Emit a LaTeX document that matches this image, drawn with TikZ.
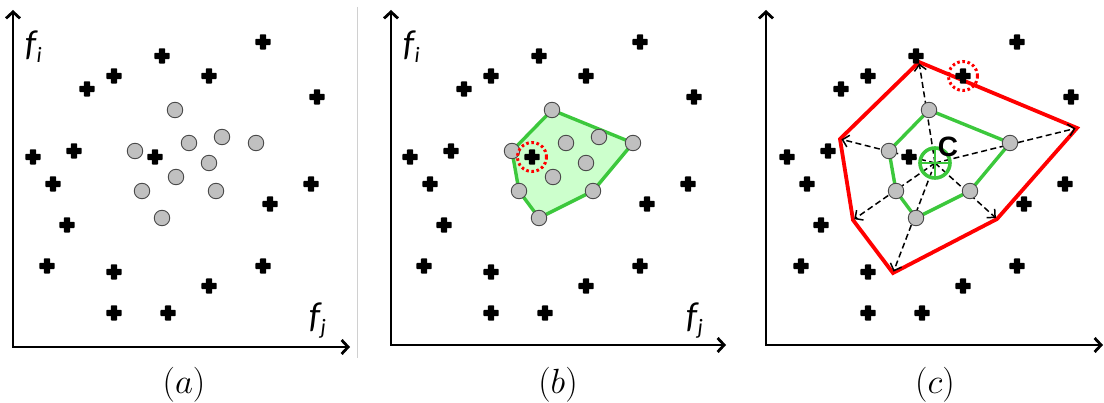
\RequirePackage{fix-cm}
\documentclass[tikz,border=0pt]{standalone}
\usepackage{fontspec}
\usepackage{tikz}
\usepackage{xcolor}
\usetikzlibrary{arrows.meta,positioning,calc,backgrounds}
\newfontfamily\carlito{Carlito}
\newfontfamily\libsans{Liberation Sans}
\definecolor{ink}{HTML}{000000}
\definecolor{dotgray}{HTML}{C0C0C0}
\definecolor{dotedge}{HTML}{4A4A4A}
\definecolor{hullgreen}{HTML}{3CC83C}
\definecolor{hullfill}{HTML}{CCFFCC}
\definecolor{boundred}{HTML}{FF0000}
\definecolor{sepgray}{HTML}{D0D0D0}
\newcommand{\featlab}[2]{{\carlito\itshape\fontsize{36}{36}\selectfont #1\kern0.5pt\raisebox{-7pt}{\fontsize{22}{22}\selectfont #2}}}
\tikzset{
  plusmark/.style={inner sep=0pt,minimum size=17pt,
    path picture={
      \fill[ink,rounded corners=0.8pt] ([shift={(-7.6pt,-3.2pt)}]path picture bounding box.center)
        rectangle ([shift={(7.6pt,3.2pt)}]path picture bounding box.center);
      \fill[ink,rounded corners=0.8pt] ([shift={(-3.2pt,-7.6pt)}]path picture bounding box.center)
        rectangle ([shift={(3.2pt,7.6pt)}]path picture bounding box.center);}},
  sample/.style={circle,draw=dotedge,fill=dotgray,line width=0.9pt,
                 minimum size=15.5pt,inner sep=0pt},
  ringdot/.style={circle,draw=boundred,line width=3pt,dash pattern=on 2.6pt off 2.6pt,
                  minimum size=29pt,inner sep=0pt},
  centring/.style={circle,draw=hullgreen,line width=3.6pt,minimum size=30pt,inner sep=0pt,
    path picture={\draw[hullgreen,line width=2.8pt]
      (path picture bounding box.north) -- (path picture bounding box.south)
      (path picture bounding box.west) -- (path picture bounding box.east);}},
  axisarr/.style={{Straight Barb[length=6.5pt,width=14pt]}-{Straight Barb[length=6.5pt,width=14pt]},
                  line width=2.8pt,draw=ink},
  hullline/.style={draw=hullgreen,line width=3.4pt,line join=round},
  boundline/.style={draw=boundred,line width=3.8pt,line join=miter},
  rayarr/.style={-{Straight Barb[length=6pt,width=12pt]},line width=1.5pt,
                 dash pattern=on 6pt off 3.5pt,shorten >=1.5pt},
  sepline/.style={draw=sepgray,line width=1pt},
  caption/.style={font=\fontsize{35}{35}\selectfont,inner sep=0pt},
  bigc/.style={font=\libsans\bfseries\fontsize{28}{28}\selectfont,inner sep=0pt}
}

\begin{document}
\begin{tikzpicture}[x=1pt,y=-1pt]
  \useasboundingbox (0,0) rectangle (1104,403);
  \draw[sepline] (357,7) -- (357,358);

  % axes
  \foreach \p/\ox/\oy/\ex in {a/13/347/350,b/391/345/726,c/766/345/1103} {
    \coordinate (\p top) at (\ox,10);
    \coordinate (\p end) at (\ex,\oy);
    \draw[axisarr] (\p top) |- (\p end);
  }
  \node[anchor=base west,inner sep=0pt] (afi) at (25,56) {\featlab{f}{i}};
  \node[anchor=base west,inner sep=0pt] (afj) at (309,328) {\featlab{f}{j}};
  \node[anchor=base west,inner sep=0pt] (bfi) at (403,56) {\featlab{f}{i}};
  \node[anchor=base west,inner sep=0pt] (bfj) at (686,328) {\featlab{f}{j}};

  % the other class, same in all panels
  \foreach \p/\dx in {a/0,b/377,c/754}
    \foreach \x/\y [count=\k] in {263/42,162/56,114/76,209/76,87/89,317/97,74/151,33/157,
        155/157,53/184,311/184,270/204,67/225,47/266,263/266,114/272,209/286,114/313,168/313}
      \node[plusmark] (\p x\k) at (\x+\dx,\y) {};

  % samples of the class
  \foreach \p/\dx in {a/0,b/377}
    \foreach \x/\y [count=\k] in {175/110,222/137,189/143,256/143,135/151,
        209/163,176/177,142/191,216/191,162/218}
      \node[sample] (\p s\k) at (\x+\dx,\y) {};

  % (b) hull
  \begin{pgfonlayer}{background}
    \draw[hullline,fill=hullfill] (bs1.center) -- (bs4.center) -- (bs9.center)
      -- (bs10.center) -- (bs8.center) -- (bs5.center) -- cycle;
  \end{pgfonlayer}
  \node[ringdot] (bring) at (bx9) {};

  % (c) hull pushed out from its centre
  \foreach \x/\y [count=\k] in {175/110,256/143,216/191,162/218,142/191,135/151}
    \node[sample] (ch\k) at (\x+754,\y) {};
  \foreach \x/\y [count=\k] in {919/62,1077/128,997/219,893/273,853/220,840/139}
    \coordinate (r\k) at (\x,\y);
  \node[centring] (cen) at (935,163) {};
  \node[bigc] (clab) at (948,147) {C};
  \begin{pgfonlayer}{background}
    \draw[boundline] (r1) -- (r2) -- (r3) -- (r4) -- (r5) -- (r6) -- cycle;
    \draw[hullline] (ch1.center) -- (ch2.center) -- (ch3.center)
      -- (ch4.center) -- (ch5.center) -- (ch6.center) -- cycle;
    \foreach \k in {1,...,6}
      \draw[rayarr] (cen.center) -- (r\k);
  \end{pgfonlayer}
  \node[ringdot] (cring) at (cx4) {};

  \node[caption] (capa) at (184,385) {$(a)$};
  \node[caption] (capb) at (558,385) {$(b)$};
  \node[caption] (capc) at (935,385) {$(c)$};
\end{tikzpicture}
\end{document}
